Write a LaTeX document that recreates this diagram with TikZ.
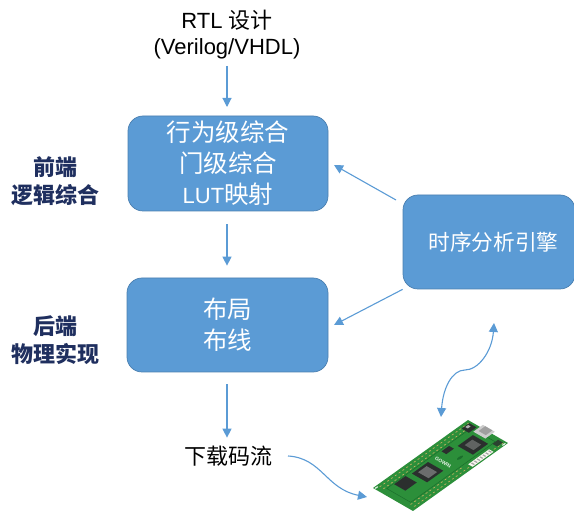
\documentclass[tikz,border=0pt]{standalone}
\usepackage{fontspec}
\setmainfont{Liberation Sans}
\newfontfamily\cjk{Noto Sans CJK SC}
\usetikzlibrary{arrows.meta}
\definecolor{boxblue}{HTML}{5B9BD5}
\definecolor{boxedge}{HTML}{4A7FB0}
\definecolor{navy}{HTML}{1F2F5F}
\definecolor{pcb}{HTML}{2C8F3A}
\definecolor{pcbdark}{HTML}{1B6E2C}
\definecolor{gold}{HTML}{C2B060}
\definecolor{chip}{HTML}{2B2F2E}
\tikzset{
  blockbox/.style={draw=boxedge,line width=0.7pt,fill=boxblue,rounded corners=15pt,text=white,align=center,font=\fontsize{24.5}{31}\selectfont\cjk,inner sep=0pt},
  plain/.style={align=center,text=black,inner sep=0pt},
  sidelabel/.style={align=center,text=navy,inner sep=0pt,font=\fontsize{22}{28}\selectfont\cjk\bfseries},
  flow/.style={draw=boxblue,line width=1.1pt,-{Triangle[length=9pt,width=9pt]}},
  twoway/.style={draw=boxblue,line width=1.1pt,{Triangle[length=9pt,width=9pt]}-{Triangle[length=9pt,width=9pt]}}
}
\begin{document}
\begin{tikzpicture}[x=1pt,y=-1pt]
\useasboundingbox (0,0) rectangle (574,513);
\node[plain,font=\fontsize{22}{26}\selectfont] (rtl) at (227,35) {RTL {\cjk 设计}\\(Verilog/VHDL)};
\node[blockbox,minimum width=200pt,minimum height=95pt] (synth) at (228,163.5) {行为级综合\\门级综合\\{\rmfamily\fontsize{22}{31}\selectfont LUT}映射};
\node[blockbox,minimum width=201pt,minimum height=94pt] (pnr) at (227.5,325) {布局\\布线};
\node[blockbox,minimum width=172pt,minimum height=94pt,font=\fontsize{21.7}{26}\selectfont\cjk] (sta) at (489,242) {\raisebox{2pt}{\hspace*{9pt}时序分析引擎}};
\node[sidelabel] (front) at (56,181) {前端\\逻辑综合};
\node[sidelabel] (back) at (56,340) {后端\\物理实现};
\node[plain,font=\fontsize{22}{26}\selectfont\cjk] (bits) at (228,456) {下载码流};
\coordinate (bitsend) at (288,456);
\coordinate (boardin) at (367,497);
\coordinate (staout) at (494,323);
\coordinate (boardup) at (441,417);
\coordinate (rtlfoot) at (227,66);
\coordinate (synthtop) at (227,107);
\coordinate (stanw) at (396,200);
\coordinate (synthright) at (334,165);
\coordinate (pnrright) at (334,325);

\draw[flow] (rtlfoot) -- (synthtop);
\draw[flow,shorten <=13pt,shorten >=12pt] ([xshift=-1pt]synth.south) -- ([xshift=-0.5pt]pnr.north);
\draw[flow,shorten <=12pt,shorten >=8pt] ([xshift=-0.5pt]pnr.south) -- ([xshift=-1pt]bits.north);
\draw[flow] (stanw) -- (synthright);
\draw[flow] (sta.south west) -- (pnrright);
\draw[flow] (bitsend) .. controls (322,458) and (326,489) .. (boardin);
\draw[twoway] (staout) .. controls (492,352) and (478,370) .. (465,370) .. controls (452,370) and (443,388) .. (boardup);

% development board photo
\begin{scope}
\clip (0,0) rectangle (574,513);
\begin{scope}[x=1pt,y=1pt,cm={95,68,40,-23,(373pt,-488pt)}]
  \fill[pcb,rounded corners=0.03pt] (0,0) rectangle (1,1);
  \draw[pcbdark,line width=0.5pt] (0.06,0.2) rectangle (0.95,0.8);
  \foreach \s in {0.05,0.09,...,0.97} {
    \fill[gold] (\s,0.07) circle[radius=0.012];
    \fill[gold] (\s,0.16) circle[radius=0.012];
    \fill[gold] (\s,0.93) circle[radius=0.012];
  }
  \foreach \s in {0.05,0.09,...,0.6} { \fill[gold] (\s,0.84) circle[radius=0.012]; }
  \fill[chip] (0.30,0.26) rectangle (0.47,0.64);
  \fill[chip!70!white] (0.34,0.32) rectangle (0.43,0.58);
  \fill[chip] (0.13,0.22) rectangle (0.25,0.50);
  \fill[chip] (0.74,0.36) rectangle (0.90,0.74);
  \fill[chip!75!white] (0.78,0.44) rectangle (0.86,0.66);
  \fill[white!90!gold] (0.64,0.86) rectangle (0.86,0.97);
  \foreach \s in {0.66,0.69,...,0.85} { \fill[gray!70] (\s,0.88) rectangle (\s+0.012,0.95); }
  \fill[gray!40] (0.93,0.30) rectangle (1.03,0.60);
  \fill[gray!75] (0.96,0.36) rectangle (1.03,0.54);
  \fill[chip] (0.62,0.24) rectangle (0.70,0.36);
  \fill[pcbdark] (0.655,0.62) circle[radius=0.03];
  \fill[chip] (0.90,0.08) rectangle (0.98,0.26);
  \fill[gray!60] (0.93,0.10) rectangle (0.96,0.16);
  \fill[chip!80!pcb] (0.92,0.80) rectangle (0.98,0.92);
  \fill[white!85!pcb] (0.02,0.04) circle[radius=0.018];
  \fill[white!85!pcb] (0.97,0.97) circle[radius=0.018];
\end{scope}
\node[text=white!90!pcb,font=\fontsize{5}{5}\selectfont\bfseries,inner sep=0pt,rotate=-30] (logo) at (443,462) {GOWIN};
\end{scope}
\end{tikzpicture}
\end{document}
